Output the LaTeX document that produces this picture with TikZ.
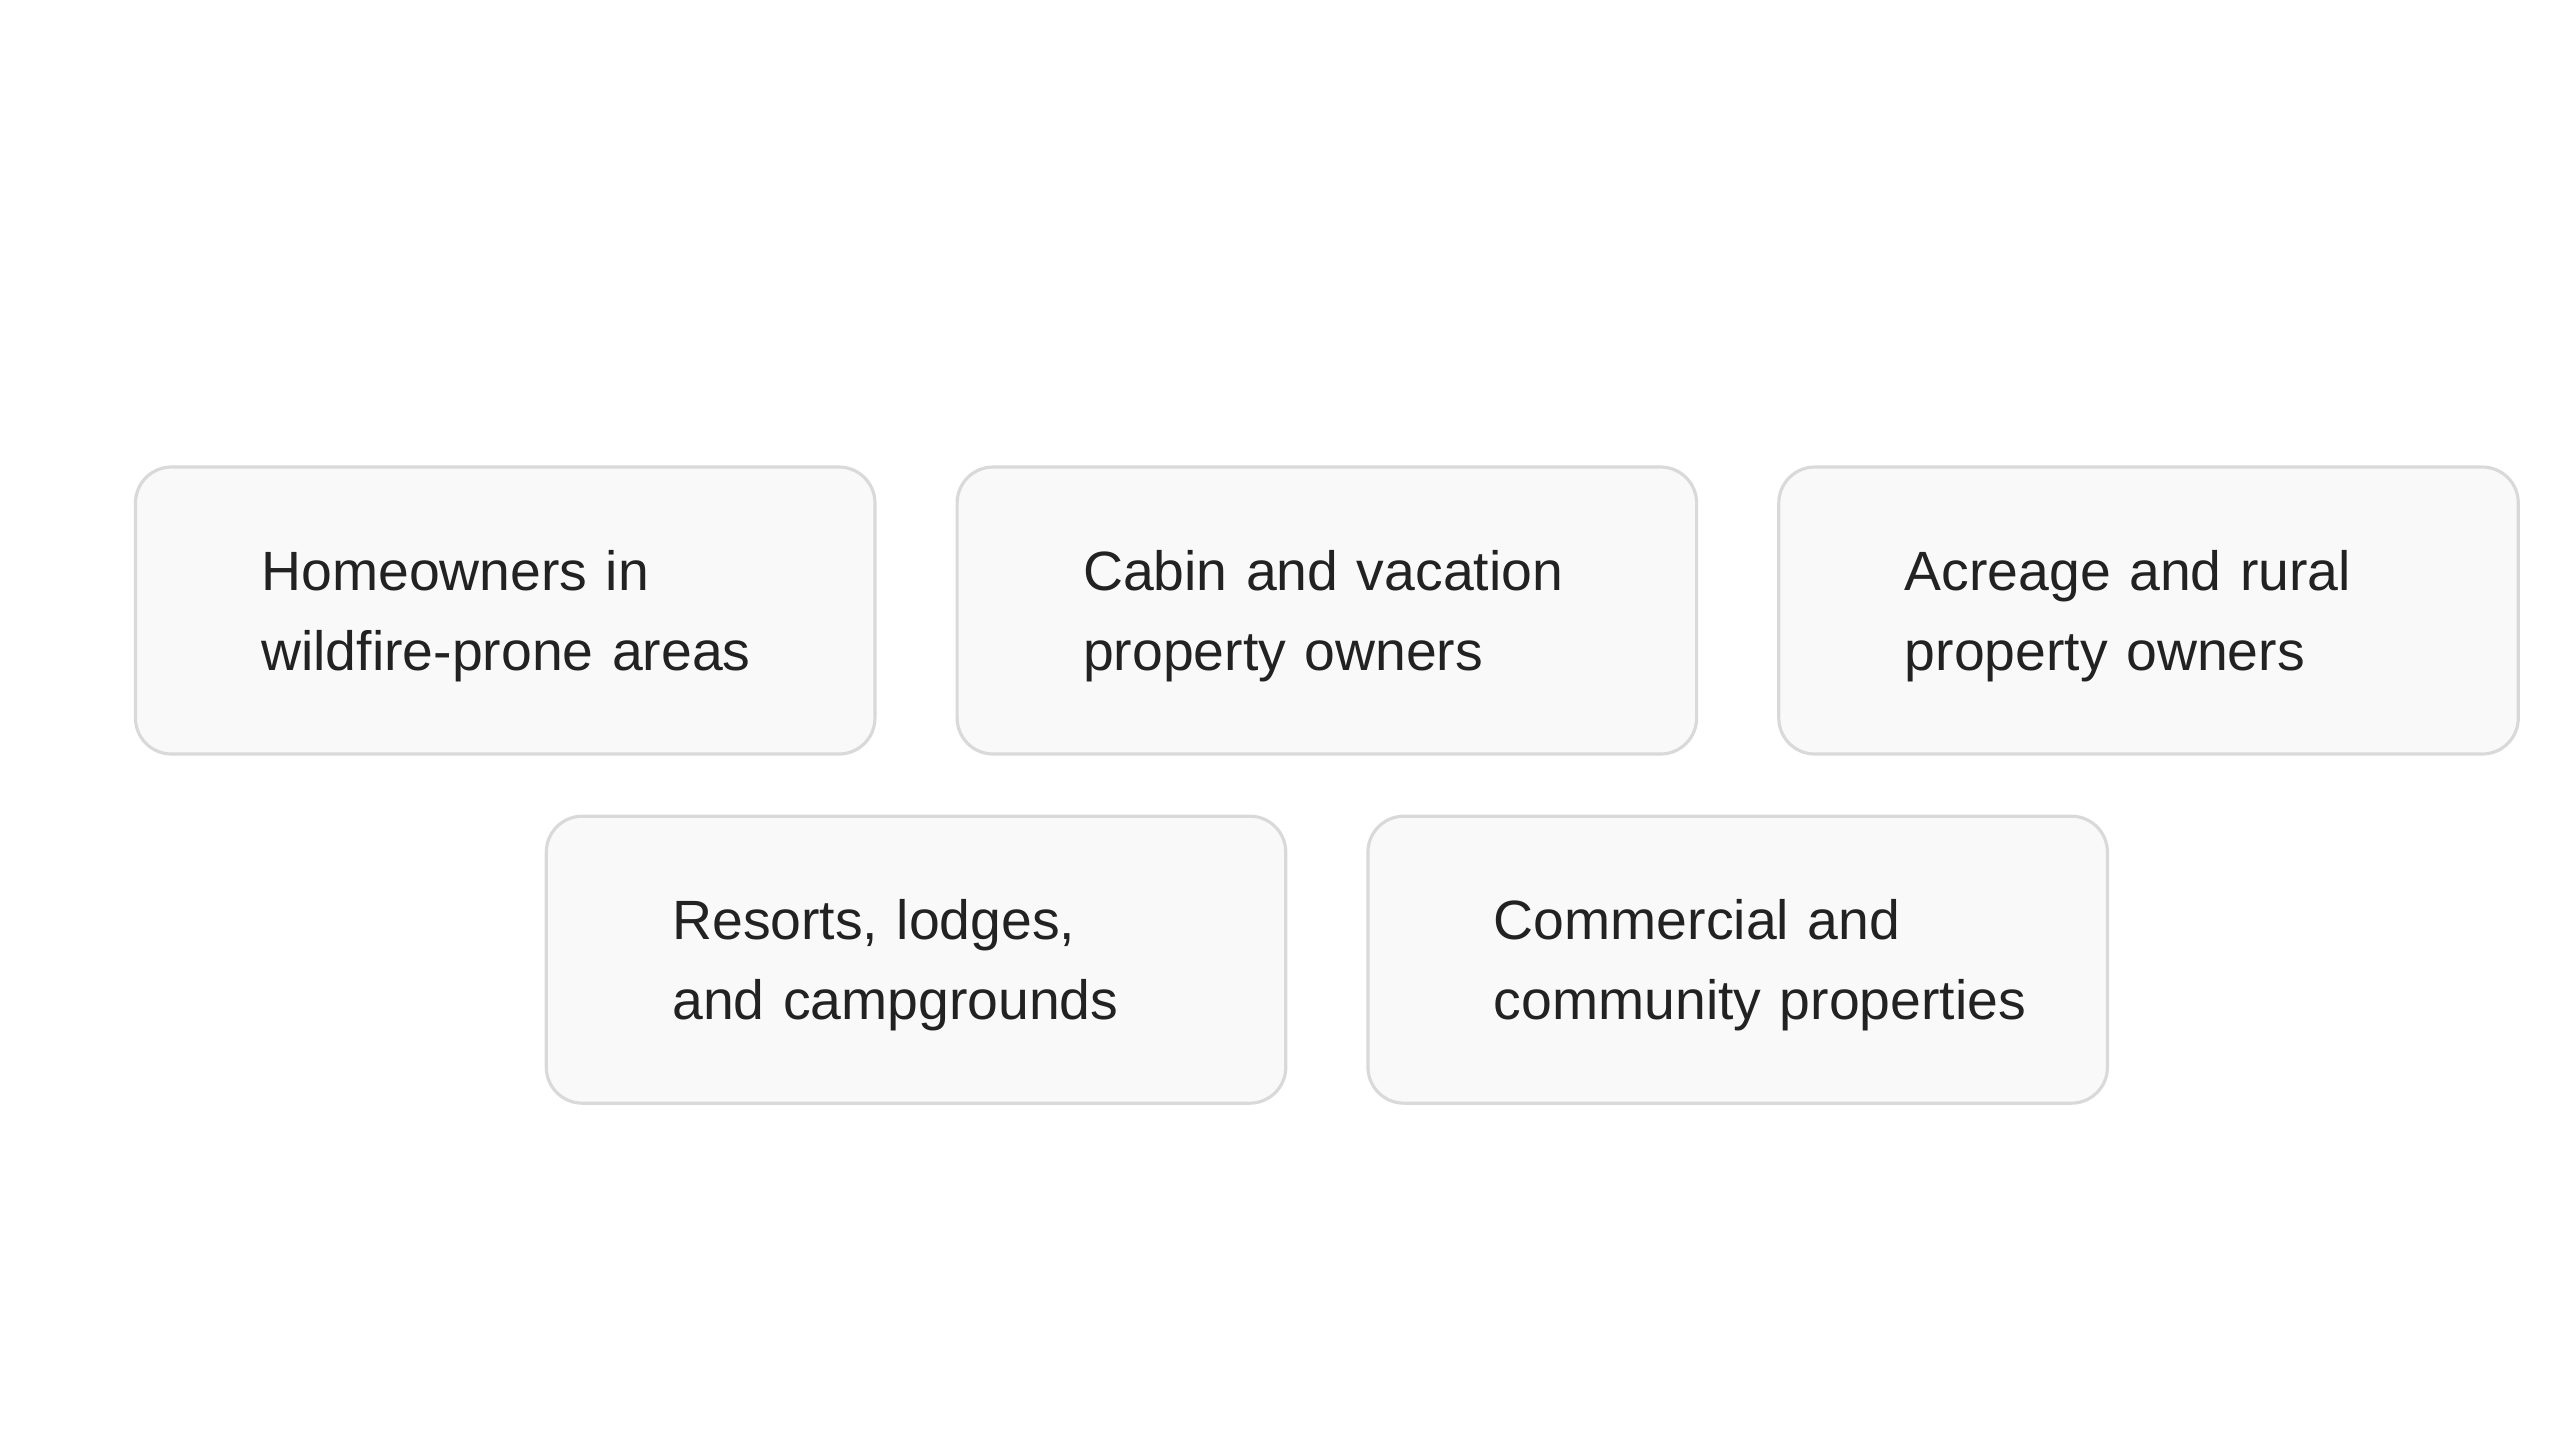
\documentclass[tikz,border=0pt]{standalone}
\usepackage{fontspec}
\setmainfont{Liberation Sans}
\usepackage{xcolor}
\usepackage{tikz}
\usetikzlibrary{positioning,calc}
\definecolor{cardfill}{HTML}{F9F9F9}
\definecolor{cardline}{HTML}{D9D9D9}
\definecolor{ink}{HTML}{222222}
\newcommand{\cardlines}[2]{\rule{0pt}{14.5pt}\mbox{#1}\\\mbox{#2}}
\hfuzz=100pt

\begin{document}
\begin{tikzpicture}[node distance=0.59cm and 0.79cm,
  groupbox/.style={draw=cardline,fill=cardfill,line width=0.9pt,rounded corners=0.36cm,
    minimum width=7.395cm,minimum height=2.87cm,inner xsep=1.26cm,inner ysep=0pt,
    text width=4.875cm,align=left,text=ink,font=\fontsize{15.75}{22.8}\selectfont}]
\useasboundingbox (0,0) rectangle (25.6,-14.39);
% top row
\node[groupbox] (home) at (5.052,-6.105) {\cardlines{Homeowners in}{wildfire-prone areas}};
\node[groupbox,right=of home] (cabin) {\cardlines{Cabin and vacation}{property owners}};
\node[groupbox,right=of cabin] (acre) {\cardlines{Acreage and rural}{property owners}};
% bottom row
\coordinate (gapl) at ($(home.south)!0.5!(cabin.south)$);
\coordinate (gapr) at ($(cabin.south)!0.5!(acre.south)$);
\node[groupbox,below=of gapl] (resort) {\cardlines{Resorts, lodges,}{and campgrounds}};
\node[groupbox,below=of gapr] (commerce) {\cardlines{Commercial and}{community properties}};
\end{tikzpicture}
\end{document}
